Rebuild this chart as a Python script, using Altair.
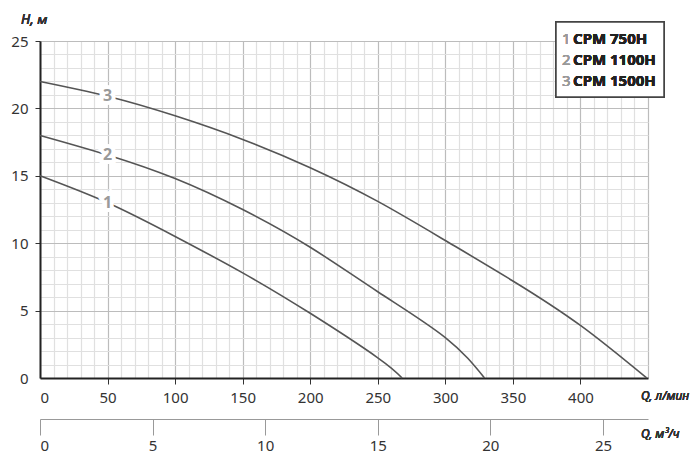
import altair as alt
import pandas as pd

# Pump curves (Q in l/min, H in m)
q1 = [0, 50, 100, 150, 200, 250, 268]
h1 = [15, 13.0, 10.5, 7.8, 4.8, 1.5, 0]
q2 = [0, 50, 100, 150, 200, 250, 300, 329]
h2 = [18, 16.55, 14.8, 12.5, 9.7, 6.4, 3.0, 0]
q3 = [0, 50, 100, 150, 200, 250, 300, 350, 400, 449]
h3 = [22, 20.9, 19.45, 17.7, 15.6, 13.1, 10.2, 7.2, 3.9, 0]

curve_ids = ["1", "2", "3"]
label_q = [50, 50, 50]
label_h = [13.0, 16.55, 20.9]
legend_names = ["CPM 750H", "CPM 1100H", "CPM 1500H"]

x_ticks = list(range(0, 451, 10))
y_ticks = list(range(0, 26, 1))
m3_ticks = [0, 5, 10, 15, 20, 25]

FONT = "Noto Sans"

rows = []
for cid, qs, hs in zip(curve_ids, [q1, q2, q3], [h1, h2, h3]):
    for q, h in zip(qs, hs):
        rows.append({"curve": cid, "q": q, "h": h})
curves = pd.DataFrame(rows)
labels = pd.DataFrame({"curve": curve_ids, "q": label_q, "h": label_h})
m3_df = pd.DataFrame({"m3": m3_ticks})

xscale = alt.Scale(domain=[0, 450], nice=False)
yscale = alt.Scale(domain=[0, 25], nice=False)

x_enc = alt.X(
    "q:Q",
    scale=xscale,
    title=None,
    axis=alt.Axis(
        values=x_ticks,
        labelExpr="datum.value % 50 === 0 && datum.value < 450 ? datum.label : ''",
        gridColor={"condition": {"test": "datum.value % 50 === 0", "value": "#bcbcbc"}, "value": "#e0e0e0"},
        tickColor={"condition": {"test": "datum.value % 50 === 0 && datum.value > 0 && datum.value < 450", "value": "#333"}, "value": "transparent"},
        gridWidth=1.2,
        tickSize=6,
        labelPadding=6,
        domainColor="#222",
        domainWidth=2,
        labelFontSize=15,
        labelFont=FONT,
        labelColor="#333",
        labelOverlap=False,
    ),
)
y_enc = alt.Y(
    "h:Q",
    scale=yscale,
    title=None,
    axis=alt.Axis(
        values=y_ticks,
        labelExpr="datum.value % 5 === 0 ? datum.label : ''",
        gridColor={"condition": {"test": "datum.value % 5 === 0", "value": "#bcbcbc"}, "value": "#e0e0e0"},
        tickColor={"condition": {"test": "datum.value % 5 === 0 && datum.value > 0", "value": "#333"}, "value": "transparent"},
        gridWidth=1.2,
        tickSize=5,
        labelPadding=7,
        domainColor="#222",
        domainWidth=2,
        labelFontSize=15,
        labelFont=FONT,
        labelColor="#333",
        labelOverlap=False,
    ),
)

lines = alt.Chart(curves).mark_line(color="#555", strokeWidth=1.6, interpolate="natural").encode(
    x=x_enc, y=y_enc, detail="curve:N"
)
halo = alt.Chart(labels).mark_text(
    fontSize=16, fontWeight="bold", font=FONT, fill="white", stroke="white", strokeWidth=8
).encode(x=x_enc, y=y_enc, text="curve:N")
lab = alt.Chart(labels).mark_text(
    fontSize=16, fontWeight="bold", font=FONT, color="#9a9a9a"
).encode(x=x_enc, y=y_enc, text="curve:N")

main = alt.layer(lines, halo, lab)

m3_axis = alt.Chart(m3_df).mark_point(opacity=0).encode(
    x=alt.X(
        "m3:Q",
        scale=alt.Scale(domain=[0, 27], nice=False),
        title=None,
        axis=alt.Axis(
            orient="bottom",
            offset=41,
            values=m3_ticks,
            grid=False,
            domainColor="#999",
            domainWidth=1,
            tickColor="#999",
            tickSize=16,
            labelPadding=3,
            labelFontSize=15,
            labelFont=FONT,
            labelColor="#333",
        ),
    )
)

texts = []
texts.append(alt.Chart(m3_df).mark_text(text="H, м", fontStyle="italic", font=FONT, fontSize=13.5, color="#333", align="left").encode(
    x=alt.value(-19), y=alt.value(-21)))
texts.append(alt.Chart(m3_df).mark_text(text="Q, л/мин", fontStyle="italic", font=FONT, fontSize=12, color="#333", align="left").encode(
    x=alt.value(601), y=alt.value(355)))
texts.append(alt.Chart(m3_df).mark_text(text="Q, м³/ч", fontStyle="italic", font=FONT, fontSize=12, color="#333", align="left").encode(
    x=alt.value(601), y=alt.value(393)))

legend_box = alt.Chart(m3_df).mark_rect(fill="white", stroke="#444", strokeWidth=1.5).encode(
    x=alt.value(516), x2=alt.value(624), y=alt.value(-19), y2=alt.value(56)
)
legend_layers = [legend_box]
for i, (cid, name) in enumerate(zip(curve_ids, legend_names)):
    yy = -2 + i * 21
    legend_layers.append(alt.Chart(m3_df).mark_text(text=cid, font=FONT, fontSize=15, color="#999", align="left").encode(
        x=alt.value(522), y=alt.value(yy)))
    legend_layers.append(alt.Chart(m3_df).mark_text(text=name, font=FONT, fontSize=15, fontWeight="bold", color="#222", align="left").encode(
        x=alt.value(533), y=alt.value(yy)))

chart = alt.layer(main, m3_axis, *texts, *legend_layers).resolve_scale(x="independent").properties(
    width=608,
    height=337,
    autosize=alt.AutoSizeParams(type="none"),
    padding={"left": 32, "top": 33, "right": 43, "bottom": 76},
).configure_view(stroke=None)

chart.save("out.html", embed_options={"renderer": "svg", "actions": False})
